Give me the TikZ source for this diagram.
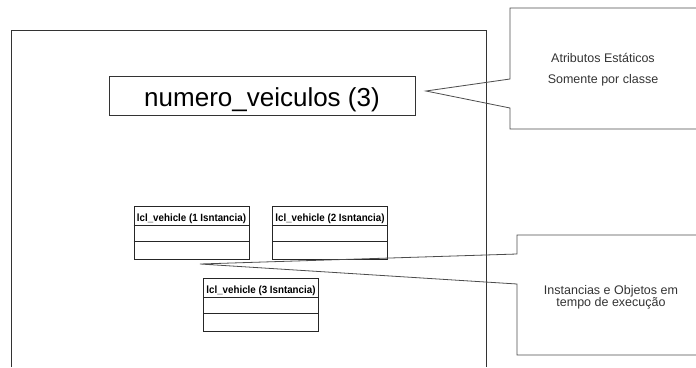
\documentclass[tikz,border=0pt]{standalone}
\usepackage{fontspec}
\setmainfont{Liberation Sans}
\begin{document}
\begin{tikzpicture}[x=1pt,y=-1pt,
  frameline/.style={draw=black!80,line width=0.9pt},
  calloutline/.style={draw=black!70,line width=0.8pt},
  classbox/.style={draw=black!85,line width=0.8pt,minimum width=115pt,minimum height=53pt,inner sep=0pt},
  attrbox/.style={draw=black!80,line width=0.8pt,minimum width=306pt,minimum height=39pt,inner sep=0pt},
  hdr/.style={font=\fontsize{10.5}{10.5}\selectfont\bfseries,inner sep=0pt,anchor=base,xscale=0.93},
  note/.style={font=\fontsize{12.5}{12.5}\selectfont,text=black!80,inner sep=0pt,anchor=base}]
\useasboundingbox (0,0) rectangle (696,367);

% package boundary
\draw[frameline] (11,367) -- (11,30) -- (486,30) -- (486,367);

% static attribute
\node[attrbox] (attr) at (262,95.5) {};
\node[anchor=base,inner sep=0pt,font=\fontsize{26}{26}\selectfont] (attrtext) at (262,106) {numero\_veiculos (3)};

% object instances
\node[classbox] (c1) at (191.5,232.5) {};
\node[classbox] (c2) at (330,232.5) {};
\node[classbox] (c3) at (261,304.5) {};
\foreach \c/\n in {c1/1,c2/2,c3/3}{
  \draw[line width=0.8pt,draw=black!85] ([yshift=-20pt]\c.north west) -- ([yshift=-20pt]\c.north east);
  \draw[line width=0.8pt,draw=black!85] ([yshift=-36pt]\c.north west) -- ([yshift=-36pt]\c.north east);
  \node[hdr] (\c h) at ([yshift=-15.5pt]\c.north) {lcl\_vehicle (\n\ Isntancia)};
}

% callout: static attributes
\coordinate (tip1) at (426,91);
\draw[calloutline] (697,8) -- (510,8) -- (510,79) -- (tip1) -- (510,108) -- (510,129) -- (697,129);
\node[note] (n1a) at (603,62) {Atributos Estáticos};
\node[note] (n1b) at (603,83) {Somente por classe};

% callout: runtime instances
\coordinate (tip2) at (200,264);
\draw[calloutline] (697,235) -- (517,235) -- (517,254) -- (tip2) -- (517,284) -- (517,355) -- (697,355);
\node[note] (n2a) at (611,294) {Instancias e Objetos em};
\node[note] (n2b) at (611,306) {tempo de execução};
\end{tikzpicture}
\end{document}
